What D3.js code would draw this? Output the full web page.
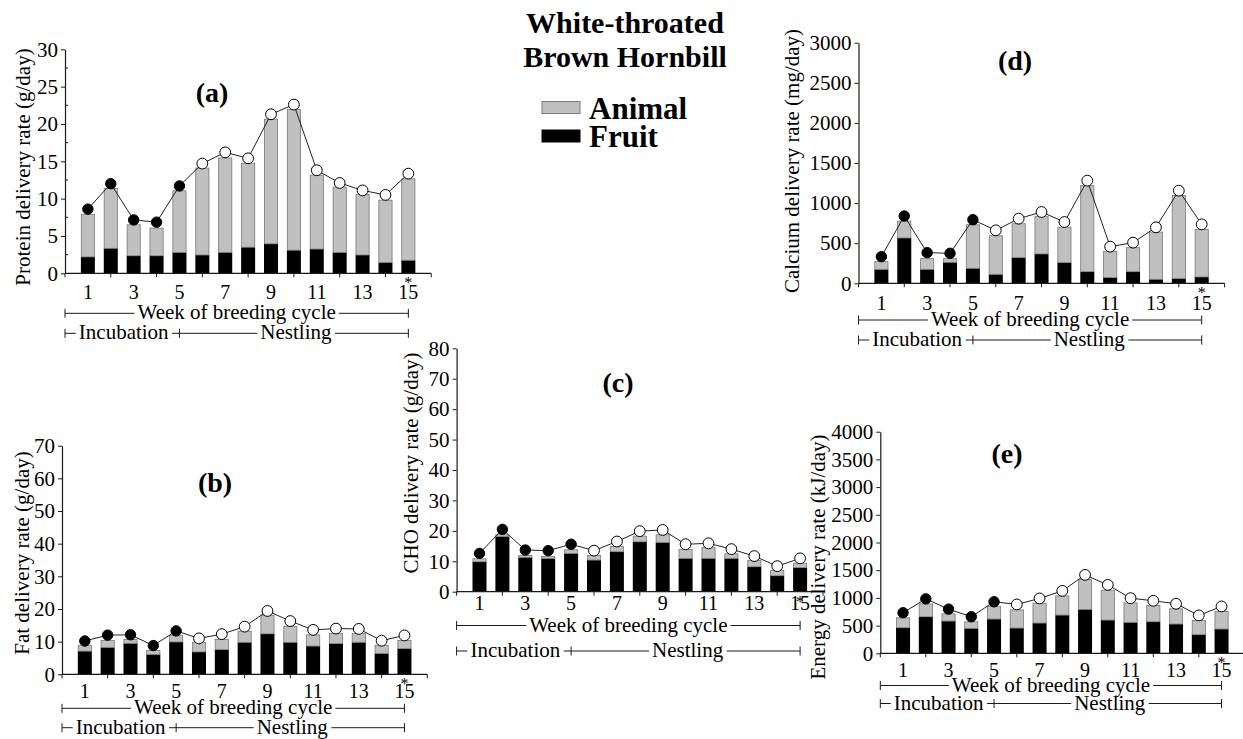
<!DOCTYPE html>
<html><head><meta charset="utf-8">
<script src="https://cdn.jsdelivr.net/npm/d3@7"></script>
<style>
body{margin:0;background:#fff;}
svg{display:block;font-family:"Liberation Serif","Times New Roman",serif;}
</style></head><body>
<svg id="chart" width="1243" height="739"></svg>
<script>
// ---------- DATA ----------
const weeks = [1,2,3,4,5,6,7,8,9,10,11,12,13,14,15];
const weekTickLabels = [1,3,5,7,9,11,13,15];
const incubationEnd = 5;
const seriesNames = ["Animal","Fruit"];

const proteinFruit  = [2.2,3.35,2.35,2.35,2.8,2.45,2.8,3.5,3.95,3.1,3.25,2.8,2.45,1.45,1.75];
const proteinAnimal = [5.75,8.05,4.2,3.75,8.3,11.7,12.7,11.3,16.75,18.9,9.95,8.8,8.15,8.4,10.95];
const proteinPoint  = [8.6,12.0,7.15,6.85,11.7,14.7,16.2,15.4,21.3,22.6,13.8,12.1,11.1,10.5,13.35];
const proteinTicks  = [0,5,10,15,20,25,30];

const fatFruit  = [7.1,8.25,9.5,6.1,9.9,6.85,7.55,9.8,12.4,9.8,8.65,9.4,9.8,6.35,7.85];
const fatAnimal = [1.9,2.25,1.3,1.35,2.1,3.05,3.25,3.5,5.8,5.0,3.55,3.25,2.85,2.65,2.65];
const fatPoint  = [10.2,12.0,12.1,8.8,13.3,11.0,12.3,14.6,19.4,16.3,13.6,14.0,13.9,10.3,11.9];
const fatTicks  = [0,10,20,30,40,50,60,70];

const choFruit  = [9.85,18.1,11.3,10.95,12.6,10.4,13.15,16.4,16.2,10.95,10.95,10.95,8.2,5.25,7.9];
const choAnimal = [1.1,0.75,0.75,0.75,1.3,1.65,1.85,2.0,2.65,3.05,3.65,1.65,2.2,1.85,1.6];
const choPoint  = [12.6,20.5,13.7,13.5,15.6,13.5,16.5,19.9,20.3,15.6,15.9,14.0,11.7,8.4,10.95];
const choTicks  = [0,10,20,30,40,50,60,70,80];

const calciumFruit  = [174,565,174,262,187,112,320,366,258,145,71,145,50,58,79];
const calciumAnimal = [104,216,138,50,548,486,428,473,448,1081,332,304,594,1043,598];
const calciumPoint  = [332,839,382,374,793,660,806,889,764,1280,457,507,698,1155,735];
const calciumTicks  = [0,500,1000,1500,2000,2500,3000];

const energyFruit  = [462,660,582,450,618,456,546,690,792,600,558,570,528,336,438];
const energyAnimal = [186,240,138,126,234,336,366,353,545,545,359,300,282,264,324];
const energyPoint  = [732,983,798,660,930,882,990,1127,1415,1235,995,948,894,684,846];
const energyTicks  = [0,500,1000,1500,2000,2500,3000,3500,4000];

// ---------- LAYOUT ----------
const panels = [
  {label:"(a)", title:"Protein delivery rate (g/day)", fruit:proteinFruit, animal:proteinAnimal, point:proteinPoint, ticks:proteinTicks, minor:true,
   x0:65, step:22.89, y0:273.3, yTop:49.3, labelX:212, labelY:102, titleX:23, titleY:167, tickDy:26, weekY:313.3, phaseY:333.3},
  {label:"(b)", title:"Fat delivery rate (g/day)", fruit:fatFruit, animal:fatAnimal, point:fatPoint, ticks:fatTicks, minor:false,
   x0:62, step:22.83, y0:674.3, yTop:445.7, labelX:215, labelY:492, titleX:22, titleY:553, tickDy:24, weekY:708.3, phaseY:727.7},
  {label:"(c)", title:"CHO delivery rate (g/day)", fruit:choFruit, animal:choAnimal, point:choPoint, ticks:choTicks, minor:false,
   x0:456.6, step:22.9, y0:591.7, yTop:348.3, labelX:618, labelY:392, titleX:411, titleY:463, tickDy:18.5, weekY:625.5, phaseY:651},
  {label:"(d)", title:"Calcium delivery rate (mg/day)", fruit:calciumFruit, animal:calciumAnimal, point:calciumPoint, ticks:calciumTicks, minor:false,
   x0:858.5, step:22.88, y0:283.3, yTop:42.7, labelX:1015, labelY:70, titleX:792, titleY:161, tickDy:27, weekY:320, phaseY:340},
  {label:"(e)", title:"Energy delivery rate (kJ/day)", fruit:energyFruit, animal:energyAnimal, point:energyPoint, ticks:energyTicks, minor:false,
   x0:880.3, step:22.75, y0:653.3, yTop:431.7, labelX:1007, labelY:463, titleX:818, titleY:557, tickDy:23.5, weekY:685.5, phaseY:703.5}
];

const GRAY = "#c0c0c0", GRAY_STROKE = "#7a7a7a", INK = "#1a1a1a";
const svg = d3.select("#chart");

function bracketText(g, y, cx, txt, size){
  const t = g.append("text").attr("x",cx).attr("y",y+6).attr("text-anchor","middle")
    .attr("font-size",size).attr("fill","#000").text(txt);
  const bb = t.node().getBBox();
  g.insert("rect", () => t.node()).attr("x",bb.x-3).attr("y",y-3).attr("width",bb.width+6).attr("height",6).attr("fill","#fff");
}

panels.forEach(p => {
  const g = svg.append("g");
  const x = d3.scaleLinear().domain([0,16]).range([p.x0, p.x0+16*p.step]);
  const yMax = p.ticks[p.ticks.length-1];
  const y = d3.scaleLinear().domain([0,yMax]).range([p.y0, p.yTop]);
  const bw = 14;

  // bars
  g.selectAll("rect.fruit").data(weeks).join("rect").attr("class","fruit")
    .attr("x", w => x(w)-bw/2).attr("width", bw)
    .attr("y", (w,i) => y(p.fruit[i])).attr("height", (w,i) => y(0)-y(p.fruit[i]))
    .attr("fill","#000");
  g.selectAll("rect.animal").data(weeks).join("rect").attr("class","animal")
    .attr("x", w => x(w)-bw/2+0.4).attr("width", bw-0.8)
    .attr("y", (w,i) => y(p.fruit[i]+p.animal[i])+0.4)
    .attr("height", (w,i) => Math.max(0, y(p.fruit[i]) - y(p.fruit[i]+p.animal[i]) - 0.4))
    .attr("fill",GRAY).attr("stroke",GRAY_STROKE).attr("stroke-width",0.8);

  // y axis
  const ya = g.append("g").attr("transform",`translate(${p.x0},0)`)
    .call(d3.axisLeft(y).tickValues(p.ticks).tickSize(4).tickSizeOuter(0).tickPadding(3).tickFormat(d3.format("d")));
  ya.select(".domain").attr("stroke",INK).attr("stroke-width",1.2);
  ya.selectAll(".tick line").attr("stroke",INK);
  ya.selectAll(".tick text").attr("font-size",21).attr("font-family","Liberation Serif, Times New Roman, serif").attr("fill","#000");
  if (p.minor) {
    const stepT = p.ticks[1]-p.ticks[0];
    const minor = p.ticks.slice(0,-1).map(t => t+stepT/2);
    g.selectAll("line.minor").data(minor).join("line")
      .attr("x1",p.x0).attr("x2",p.x0+3).attr("y1",d=>y(d)).attr("y2",d=>y(d)).attr("stroke",INK);
  }

  // x axis
  g.append("line").attr("x1",x(0)).attr("x2",x(16)).attr("y1",p.y0).attr("y2",p.y0).attr("stroke",INK).attr("stroke-width",1.2);
  g.selectAll("line.xt").data(d3.range(0,17,2)).join("line")
    .attr("x1",d=>x(d)).attr("x2",d=>x(d)).attr("y1",p.y0).attr("y2",p.y0+4).attr("stroke",INK);
  g.selectAll("text.xl").data(weekTickLabels).join("text")
    .attr("x",d=>x(d)).attr("y",p.y0+p.tickDy).attr("text-anchor","middle").attr("font-size",20).text(d=>d);
  g.append("text").attr("x",x(15)).attr("y",p.y0+15).attr("text-anchor","middle").attr("font-size",16).text("*");

  // line + points
  g.append("path").datum(weeks)
    .attr("d", d3.line().x(w=>x(w)).y((w,i)=>y(p.point[i])))
    .attr("fill","none").attr("stroke","#222").attr("stroke-width",1);
  g.selectAll("circle.pt").data(weeks).join("circle")
    .attr("cx",w=>x(w)).attr("cy",(w,i)=>y(p.point[i]))
    .attr("r", w => w<=incubationEnd ? 5.2 : 5.4)
    .attr("fill", w => w<=incubationEnd ? "#000" : "#fff")
    .attr("stroke","#000").attr("stroke-width",1);

  // brackets
  const bg = g.append("g").attr("stroke",INK);
  const cap = (xx,yy) => bg.append("line").attr("x1",xx).attr("x2",xx).attr("y1",yy-4.5).attr("y2",yy+4.5);
  bg.append("line").attr("x1",x(0)).attr("x2",x(15)).attr("y1",p.weekY).attr("y2",p.weekY);
  cap(x(0),p.weekY); cap(x(15),p.weekY);
  bg.append("line").attr("x1",x(0)).attr("x2",x(15)).attr("y1",p.phaseY).attr("y2",p.phaseY);
  cap(x(0),p.phaseY); cap(x(incubationEnd),p.phaseY); cap(x(15),p.phaseY);
  const tg = g.append("g");
  bracketText(tg, p.weekY, (x(0)+x(15))/2, "Week of breeding cycle", 21);
  bracketText(tg, p.phaseY, (x(0)+x(incubationEnd))/2+1.5, "Incubation", 21);
  bracketText(tg, p.phaseY, (x(incubationEnd)+x(15))/2+2, "Nestling", 21);

  // titles
  g.append("text").attr("transform",`translate(${p.titleX},${p.titleY}) rotate(-90)`)
    .attr("text-anchor","middle").attr("dominant-baseline","central").attr("font-size",21).text(p.title);
  g.append("text").attr("x",p.labelX).attr("y",p.labelY).attr("text-anchor","middle")
    .attr("font-size",28).attr("font-weight","bold").text(p.label);
});

// main title
svg.append("text").attr("x",625).attr("y",33).attr("text-anchor","middle").attr("font-size",30).attr("font-weight","bold").text("White-throated");
svg.append("text").attr("x",625).attr("y",67).attr("text-anchor","middle").attr("font-size",30).attr("font-weight","bold").text("Brown Hornbill");

// legend
const legend = svg.append("g");
const legColors = [GRAY, "#000"];
seriesNames.forEach((name,i) => {
  legend.append("rect").attr("x",542).attr("y",101.5+i*28.5).attr("width",38).attr("height",12)
    .attr("fill",legColors[i]).attr("stroke", i===0 ? GRAY_STROKE : "#000").attr("stroke-width",1);
  legend.append("text").attr("x",589).attr("y",118.5+i*28.5).attr("font-size",31).attr("font-weight","bold").text(name);
});
</script>
</body></html>
